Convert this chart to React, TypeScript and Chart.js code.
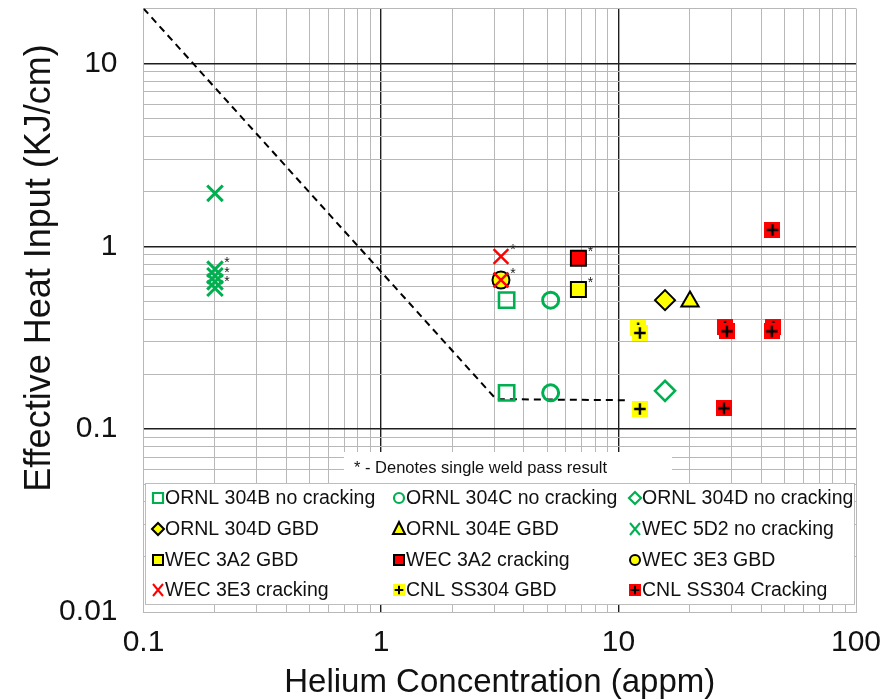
import React, { useEffect, useRef } from 'react';
import { Chart, registerables } from 'chart.js';

Chart.register(...registerables);

const FONT = '"Liberation Sans", Arial, Helvetica, sans-serif';

// ---- axis ranges & tick labels ----
const X_MIN = 0.1;
const X_MAX = 100;
const Y_MIN = 0.01;
const Y_MAX = 20;
const X_TICK_LABELS = ['0.1', '1', '10', '100'];
const Y_TICK_LABELS = ['0.01', '0.1', '1', '10'];
const X_TITLE = 'Helium Concentration (appm)';
const Y_TITLE = 'Effective Heat Input (KJ/cm)';
const NOTE = '* - Denotes single weld pass result';

// ---- data series ----
const ORNL_304B_X = [3.38, 3.38];
const ORNL_304B_Y = [0.508, 0.158];
const ORNL_304C_X = [5.18, 5.18];
const ORNL_304C_Y = [0.508, 0.158];
const ORNL_304D_NC_X = [15.7];
const ORNL_304D_NC_Y = [0.162];
const ORNL_304D_GBD_X = [15.7];
const ORNL_304D_GBD_Y = [0.508];
const ORNL_304E_X = [20];
const ORNL_304E_Y = [0.5];
const WEC_5D2_X = [0.2, 0.2, 0.2, 0.2, 0.2];
const WEC_5D2_Y = [1.95, 0.75, 0.69, 0.64, 0.59];
const WEC_3A2_GBD_X = [6.78];
const WEC_3A2_GBD_Y = [0.58];
const WEC_3A2_CR_X = [6.78];
const WEC_3A2_CR_Y = [0.86];
const WEC_3E3_GBD_X = [3.2];
const WEC_3E3_GBD_Y = [0.655];
const WEC_3E3_CR_X = [3.2, 3.2];
const WEC_3E3_CR_Y = [0.88, 0.655];
const CNL_GBD_X = [12.1, 12.3, 12.3];
const CNL_GBD_Y = [0.356, 0.336, 0.129];
const CNL_CR_X = [44.5, 28.1, 28.6, 44.9, 44.2, 27.8];
const CNL_CR_Y = [1.23, 0.363, 0.343, 0.363, 0.343, 0.13];

// dashed limit line
const LIMIT_X = [0.1, 3.05, 11];
const LIMIT_Y = [20, 0.146, 0.144];

// single weld pass markers (*)
const STAR_X = [0.2, 0.2, 0.2, 3.2, 3.2, 6.78, 6.78];
const STAR_Y = [0.75, 0.665, 0.59, 0.88, 0.655, 0.86, 0.58];

const GREEN = '#00B050';
const YELLOW = '#FFFF00';
const RED = '#FF0000';
const BLACK = '#000000';

function makePlusSquare(fill: string, size: number, lw: number) {
  const c = document.createElement('canvas');
  c.width = size;
  c.height = size;
  const g = c.getContext('2d')!;
  g.fillStyle = fill;
  g.fillRect(0, 0, size, size);
  g.strokeStyle = BLACK;
  g.lineWidth = lw;
  const m = size / 2;
  const a = size * 0.36;
  g.beginPath();
  g.moveTo(m - a, m);
  g.lineTo(m + a, m);
  g.moveTo(m, m - a);
  g.lineTo(m, m + a);
  g.stroke();
  return c;
}

function logTicks(min: number, max: number) {
  const out: { value: number }[] = [];
  for (let e = Math.floor(Math.log10(min)); e <= Math.ceil(Math.log10(max)); e++) {
    for (let k = 1; k <= 9; k++) {
      const v = parseFloat((k * Math.pow(10, e)).toPrecision(6));
      if (v >= min - 1e-9 && v <= max + 1e-9) out.push({ value: v });
    }
  }
  return out;
}

function labelFor(list: string[], v: number) {
  const f = list.find((s) => Math.abs(Number(s) - v) / v < 1e-6);
  return f === undefined ? '' : f;
}

export default function App() {
  const ref = useRef<HTMLCanvasElement>(null);

  useEffect(() => {
    const canvas = ref.current!;
    const plusYellow = makePlusSquare(YELLOW, 16, 2.4);
    const plusRed = makePlusSquare(RED, 16, 2.4);
    const plusYellowSm = makePlusSquare(YELLOW, 12, 2);
    const plusRedSm = makePlusSquare(RED, 12, 2);

    const series: any[] = [
      { label: 'ORNL 304B no cracking', xs: ORNL_304B_X, ys: ORNL_304B_Y, style: 'rect', r: 10.8, bg: 'rgba(0,0,0,0)', bc: GREEN, bw: 2.6 },
      { label: 'ORNL 304C no cracking', xs: ORNL_304C_X, ys: ORNL_304C_Y, style: 'circle', r: 8, bg: 'rgba(0,0,0,0)', bc: GREEN, bw: 3 },
      { label: 'ORNL 304D no cracking', xs: ORNL_304D_NC_X, ys: ORNL_304D_NC_Y, style: 'rectRot', r: 10, bg: 'rgba(0,0,0,0)', bc: GREEN, bw: 2.6 },
      { label: 'ORNL 304D GBD', xs: ORNL_304D_GBD_X, ys: ORNL_304D_GBD_Y, style: 'rectRot', r: 10, bg: YELLOW, bc: BLACK, bw: 2 },
      { label: 'ORNL 304E GBD', xs: ORNL_304E_X, ys: ORNL_304E_Y, style: 'triangle', r: 10, bg: YELLOW, bc: BLACK, bw: 2 },
      { label: 'WEC 5D2 no cracking', xs: WEC_5D2_X, ys: WEC_5D2_Y, style: 'crossRot', r: 11, bg: GREEN, bc: GREEN, bw: 3 },
      { label: 'WEC 3A2 GBD', xs: WEC_3A2_GBD_X, ys: WEC_3A2_GBD_Y, style: 'rect', r: 10.6, bg: YELLOW, bc: BLACK, bw: 2 },
      { label: 'WEC 3A2 cracking', xs: WEC_3A2_CR_X, ys: WEC_3A2_CR_Y, style: 'rect', r: 10.6, bg: RED, bc: BLACK, bw: 2 },
      { label: 'WEC 3E3 GBD', xs: WEC_3E3_GBD_X, ys: WEC_3E3_GBD_Y, style: 'circle', r: 8.5, bg: YELLOW, bc: BLACK, bw: 2 },
      { label: 'WEC 3E3 cracking', xs: WEC_3E3_CR_X, ys: WEC_3E3_CR_Y, style: 'crossRot', r: 10.5, bg: RED, bc: RED, bw: 2.4 },
      { label: 'CNL SS304 GBD', xs: CNL_GBD_X, ys: CNL_GBD_Y, style: plusYellow, small: plusYellowSm, r: 8, bg: YELLOW, bc: YELLOW, bw: 0 },
      { label: 'CNL SS304 Cracking', xs: CNL_CR_X, ys: CNL_CR_Y, style: plusRed, small: plusRedSm, r: 8, bg: RED, bc: RED, bw: 0 },
    ];

    const datasets: any[] = series.map((s, i) => ({
      label: s.label,
      data: s.xs.map((x: number, j: number) => ({ x, y: s.ys[j] })),
      pointStyle: s.style,
      pointRadius: s.r,
      pointHoverRadius: s.r,
      backgroundColor: s.bg,
      borderColor: s.bc,
      pointBorderWidth: s.bw,
      borderWidth: s.bw,
      showLine: false,
      order: series.length - i,
    }));
    datasets.push({
      label: 'limit',
      data: LIMIT_X.map((x, j) => ({ x, y: LIMIT_Y[j] })),
      showLine: true,
      borderColor: BLACK,
      borderWidth: 2,
      borderDash: [7, 5],
      pointRadius: 0,
      fill: false,
      tension: 0,
      order: 100,
    });

    const drawMarker = (ctx: CanvasRenderingContext2D, s: any, x: number, y: number) => {
      ctx.save();
      if (typeof s.style !== 'string') {
        ctx.drawImage(s.small, x - 6, y - 6, 12, 12);
        ctx.restore();
        return;
      }
      ctx.fillStyle = s.bg;
      ctx.strokeStyle = s.bc;
      ctx.lineWidth = Math.min(s.bw, 2.2);
      ctx.beginPath();
      const h = 5;
      switch (s.style) {
        case 'rect':
          ctx.rect(x - h, y - h, 2 * h, 2 * h);
          ctx.fill();
          ctx.stroke();
          break;
        case 'circle':
          ctx.arc(x, y, h, 0, Math.PI * 2);
          ctx.fill();
          ctx.stroke();
          break;
        case 'rectRot':
          ctx.moveTo(x - 6, y);
          ctx.lineTo(x, y - 6);
          ctx.lineTo(x + 6, y);
          ctx.lineTo(x, y + 6);
          ctx.closePath();
          ctx.fill();
          ctx.stroke();
          break;
        case 'triangle':
          ctx.moveTo(x, y - 7);
          ctx.lineTo(x + 6, y + 5);
          ctx.lineTo(x - 6, y + 5);
          ctx.closePath();
          ctx.fill();
          ctx.stroke();
          break;
        case 'crossRot':
          ctx.lineWidth = 2;
          ctx.moveTo(x - 5, y - 6);
          ctx.lineTo(x + 5, y + 6);
          ctx.moveTo(x + 5, y - 6);
          ctx.lineTo(x - 5, y + 6);
          ctx.stroke();
          break;
      }
      ctx.restore();
    };

    const overlay = {
      id: 'overlay',
      afterDatasetsDraw(chart: any) {
        const ctx: CanvasRenderingContext2D = chart.ctx;
        const xs = chart.scales.x;
        const ys = chart.scales.y;
        ctx.save();
        // stars
        ctx.fillStyle = '#222';
        ctx.font = `14px ${FONT}`;
        ctx.textAlign = 'center';
        ctx.textBaseline = 'middle';
        STAR_X.forEach((v, i) => {
          const px = xs.getPixelForValue(v);
          const py = ys.getPixelForValue(STAR_Y[i]);
          ctx.fillText('*', px + 12, py - 6);
        });
        // y-axis title
        ctx.save();
        ctx.translate(40, 268);
        ctx.rotate(-Math.PI / 2);
        ctx.font = `36px ${FONT}`;
        ctx.fillStyle = '#111';
        ctx.textAlign = 'center';
        ctx.textBaseline = 'middle';
        ctx.fillText(Y_TITLE, 0, 0);
        ctx.restore();
        // note box
        ctx.fillStyle = '#fff';
        ctx.fillRect(344, 452, 328, 31);
        ctx.fillStyle = '#111';
        ctx.font = `16.5px ${FONT}`;
        ctx.textAlign = 'left';
        ctx.fillText(NOTE, 354, 468);
        // legend box
        const bx = 145, by = 483, bw = 709, bh = 121;
        ctx.fillStyle = '#fff';
        ctx.fillRect(bx, by, bw, bh);
        ctx.strokeStyle = '#bdbdbd';
        ctx.lineWidth = 1;
        ctx.strokeRect(bx + 0.5, by + 0.5, bw, bh);
        const colX = [158, 399, 635];
        const rowY = [498, 529, 560, 590];
        ctx.font = `19.5px ${FONT}`;
        ctx.textBaseline = 'middle';
        series.forEach((s, i) => {
          const cx = colX[i % 3];
          const cy = rowY[Math.floor(i / 3)];
          drawMarker(ctx, s, cx, cy);
          ctx.fillStyle = '#111';
          ctx.fillText(s.label, cx + 7, cy + 1);
        });
        ctx.restore();
      },
    };

    const gridColor = (dark: number[]) => (c: any) => {
      const v = c.tick ? c.tick.value : NaN;
      return dark.some((d) => Math.abs(d - v) / d < 1e-6) ? '#1e1e1e' : '#b8b8b8';
    };
    const gridWidth = (dark: number[]) => (c: any) => {
      const v = c.tick ? c.tick.value : NaN;
      return dark.some((d) => Math.abs(d - v) / d < 1e-6) ? 1.4 : 1;
    };

    const chart = new Chart(canvas, {
      type: 'scatter',
      data: { datasets },
      plugins: [overlay],
      options: {
        animation: false,
        responsive: false,
        devicePixelRatio: 1,
        layout: { autoPadding: false, padding: { top: 8.5, right: 38, left: 0, bottom: 0 } },
        plugins: { legend: { display: false }, tooltip: { enabled: false } },
        scales: {
          x: {
            type: 'logarithmic',
            min: X_MIN,
            max: X_MAX,
            afterBuildTicks: (axis: any) => {
              axis.ticks = logTicks(X_MIN, X_MAX);
            },
            afterFit: (axis: any) => {
              axis.height = 87;
              axis.paddingLeft = 0;
              axis.paddingRight = 0;
            },
            ticks: {
              autoSkip: false,
              maxRotation: 0,
              minRotation: 0,
              padding: 13,
              color: '#111',
              font: { family: FONT, size: 30 },
              callback: (v: any) => labelFor(X_TICK_LABELS, Number(v)),
            },
            grid: { color: gridColor([1, 10]), lineWidth: gridWidth([1, 10]), drawTicks: false },
            border: { display: true, color: '#b8b8b8' },
            title: {
              display: true,
              text: X_TITLE,
              color: '#111',
              font: { family: FONT, size: 33, lineHeight: 1 },
              padding: { top: 0, bottom: 0 },
            },
          },
          y: {
            type: 'logarithmic',
            min: Y_MIN,
            max: Y_MAX,
            afterBuildTicks: (axis: any) => {
              axis.ticks = logTicks(Y_MIN, Y_MAX);
            },
            afterFit: (axis: any) => {
              axis.width = 143.5;
              axis.paddingTop = 0;
              axis.paddingBottom = 0;
            },
            ticks: {
              autoSkip: false,
              padding: 26,
              color: '#111',
              font: { family: FONT, size: 30 },
              callback: (v: any) => labelFor(Y_TICK_LABELS, Number(v)),
            },
            grid: { color: gridColor([0.1, 1, 10]), lineWidth: gridWidth([0.1, 1, 10]), drawTicks: false },
            border: { display: true, color: '#b8b8b8' },
            title: { display: false },
          },
        },
      },
    });
    return () => chart.destroy();
  }, []);

  return (
    <div style={{ position: 'fixed', left: 0, top: 0, width: 894, height: 699, background: '#fff' }}>
      <canvas ref={ref} width={894} height={699} style={{ width: 894, height: 699, display: 'block' }} />
    </div>
  );
}
